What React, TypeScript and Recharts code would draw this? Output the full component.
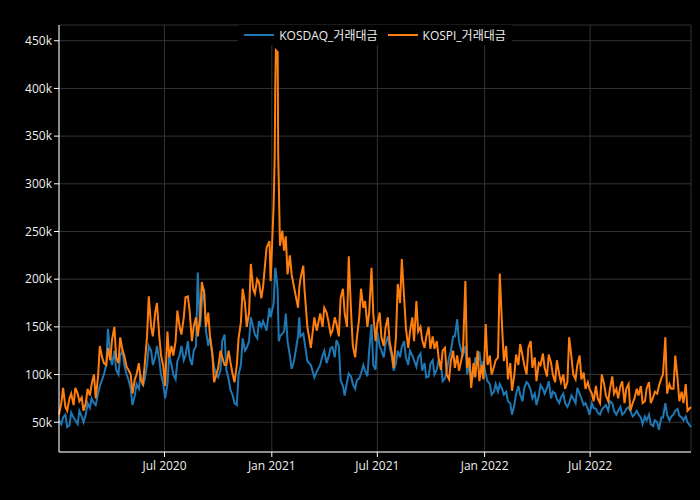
import React from 'react';
import { LineChart, Line, XAxis, YAxis, CartesianGrid, Legend } from 'recharts';

// 거래대금, 단위: 천억원 (축 라벨은 k). 한 줄 = 한 달
const dates: string[] = [
  '2020-01-02', '2020-01-06', '2020-01-09', '2020-01-13', '2020-01-16', '2020-01-20', '2020-01-23', '2020-01-27', '2020-01-30',
  '2020-02-03', '2020-02-06', '2020-02-10', '2020-02-13', '2020-02-17', '2020-02-20', '2020-02-24', '2020-02-27',
  '2020-03-02', '2020-03-05', '2020-03-09', '2020-03-12', '2020-03-16', '2020-03-19', '2020-03-23', '2020-03-26', '2020-03-30',
  '2020-04-02', '2020-04-06', '2020-04-09', '2020-04-13', '2020-04-16', '2020-04-20', '2020-04-23', '2020-04-27', '2020-04-30',
  '2020-05-04', '2020-05-07', '2020-05-11', '2020-05-14', '2020-05-18', '2020-05-21', '2020-05-25', '2020-05-28',
  '2020-06-01', '2020-06-04', '2020-06-08', '2020-06-11', '2020-06-15', '2020-06-18', '2020-06-22', '2020-06-25', '2020-06-29',
  '2020-07-02', '2020-07-06', '2020-07-09', '2020-07-13', '2020-07-16', '2020-07-20', '2020-07-23', '2020-07-27', '2020-07-30',
  '2020-08-03', '2020-08-06', '2020-08-10', '2020-08-13', '2020-08-17', '2020-08-20', '2020-08-24', '2020-08-27', '2020-08-31',
  '2020-09-03', '2020-09-07', '2020-09-10', '2020-09-14', '2020-09-17', '2020-09-21', '2020-09-24', '2020-09-28',
  '2020-10-01', '2020-10-05', '2020-10-08', '2020-10-12', '2020-10-15', '2020-10-19', '2020-10-22', '2020-10-26', '2020-10-29',
  '2020-11-02', '2020-11-05', '2020-11-09', '2020-11-12', '2020-11-16', '2020-11-19', '2020-11-23', '2020-11-26', '2020-11-30',
  '2020-12-03', '2020-12-07', '2020-12-10', '2020-12-14', '2020-12-17', '2020-12-23', '2020-12-28', '2020-12-30',
  '2021-01-04', '2021-01-05', '2021-01-06', '2021-01-07', '2021-01-08', '2021-01-11', '2021-01-12', '2021-01-13', '2021-01-15', '2021-01-19', '2021-01-22', '2021-01-25', '2021-01-28',
  '2021-02-01', '2021-02-04', '2021-02-08', '2021-02-15', '2021-02-17', '2021-02-19', '2021-02-24', '2021-02-26',
  '2021-03-03', '2021-03-09', '2021-03-15', '2021-03-19', '2021-03-25', '2021-03-29',
  '2021-04-01', '2021-04-05', '2021-04-08', '2021-04-12', '2021-04-15', '2021-04-19', '2021-04-22', '2021-04-26', '2021-04-29',
  '2021-05-03', '2021-05-06', '2021-05-10', '2021-05-13', '2021-05-17', '2021-05-20', '2021-05-24', '2021-05-27', '2021-05-31',
  '2021-06-03', '2021-06-07', '2021-06-10', '2021-06-14', '2021-06-17', '2021-06-21', '2021-06-24', '2021-06-28',
  '2021-07-01', '2021-07-05', '2021-07-08', '2021-07-12', '2021-07-15', '2021-07-19', '2021-07-22', '2021-07-26', '2021-07-29',
  '2021-08-02', '2021-08-05', '2021-08-09', '2021-08-12', '2021-08-16', '2021-08-19', '2021-08-23', '2021-08-26', '2021-08-30',
  '2021-09-02', '2021-09-06', '2021-09-09', '2021-09-13', '2021-09-16', '2021-09-20', '2021-09-23', '2021-09-27', '2021-09-30',
  '2021-10-04', '2021-10-07', '2021-10-11', '2021-10-14', '2021-10-18', '2021-10-21', '2021-10-25', '2021-10-28',
  '2021-11-01', '2021-11-04', '2021-11-08', '2021-11-11', '2021-11-15', '2021-11-18', '2021-11-22', '2021-11-25', '2021-11-29',
  '2021-12-02', '2021-12-06', '2021-12-09', '2021-12-13', '2021-12-16', '2021-12-20', '2021-12-23', '2021-12-27', '2021-12-30',
  '2022-01-03', '2022-01-06', '2022-01-10', '2022-01-13', '2022-01-17', '2022-01-20', '2022-01-24', '2022-01-27', '2022-01-31',
  '2022-02-03', '2022-02-07', '2022-02-10', '2022-02-14', '2022-02-17', '2022-02-21', '2022-02-24', '2022-02-28',
  '2022-03-03', '2022-03-07', '2022-03-10', '2022-03-14', '2022-03-17', '2022-03-21', '2022-03-24', '2022-03-28', '2022-03-31',
  '2022-04-04', '2022-04-07', '2022-04-11', '2022-04-14', '2022-04-18', '2022-04-21', '2022-04-25', '2022-04-28',
  '2022-05-02', '2022-05-05', '2022-05-09', '2022-05-12', '2022-05-16', '2022-05-19', '2022-05-23', '2022-05-26', '2022-05-30',
  '2022-06-02', '2022-06-06', '2022-06-09', '2022-06-13', '2022-06-16', '2022-06-20', '2022-06-23', '2022-06-27', '2022-06-30',
  '2022-07-04', '2022-07-07', '2022-07-11', '2022-07-14', '2022-07-18', '2022-07-21', '2022-07-25', '2022-07-28',
  '2022-08-01', '2022-08-04', '2022-08-08', '2022-08-11', '2022-08-15', '2022-08-18', '2022-08-22', '2022-08-25', '2022-08-29',
  '2022-09-01', '2022-09-05', '2022-09-08', '2022-09-12', '2022-09-15', '2022-09-19', '2022-09-22', '2022-09-26', '2022-09-29',
  '2022-10-03', '2022-10-06', '2022-10-10', '2022-10-13', '2022-10-17', '2022-10-20', '2022-10-24', '2022-10-27', '2022-10-31',
  '2022-11-03', '2022-11-07', '2022-11-10', '2022-11-14', '2022-11-17', '2022-11-21', '2022-11-24', '2022-11-28',
  '2022-12-01', '2022-12-05', '2022-12-08', '2022-12-12', '2022-12-15', '2022-12-21',
];

const kosdaq: number[] = [
  52, 48, 55, 58, 45, 47, 60, 55, 52,
  48, 62, 56, 50, 58, 70, 65, 75,
  70, 68, 80, 88, 95, 100, 110, 148, 120,
  110, 125, 105, 100, 120, 125, 110, 100, 95,
  85, 68, 78, 90, 85, 100, 88, 95,
  110, 130, 125, 110, 118, 130, 115, 100, 90,
  75, 90, 120, 110, 100, 95, 114, 120, 130,
  115, 120, 135, 118, 110, 125, 130, 207, 150,
  175, 190, 146, 130, 140, 120, 108, 100,
  97, 105, 135, 142, 105, 95, 84, 78, 70,
  68, 100, 110, 138, 125, 128, 135, 160, 150,
  142, 138, 156, 150, 156, 146, 170, 160,
  174, 185, 200, 212, 208, 190, 160, 135, 140, 143, 145, 164, 135,
  120, 106, 114, 140, 160, 140, 143, 135,
  114, 110, 97, 103, 110, 120,
  125, 112, 118, 128, 129, 118, 136, 130, 94,
  88, 78, 92, 101, 98, 90, 85, 94, 96,
  101, 110, 104, 98, 125, 153, 110, 105,
  145, 130, 125, 118, 132, 140, 129, 118, 104,
  112, 125, 118, 129, 135, 118, 110, 125, 120,
  115, 108, 118, 122, 104, 112, 97, 98, 111,
  115, 100, 105, 115, 112, 93, 96, 104,
  118, 124, 140, 140, 158, 135, 125, 121, 130,
  100, 110, 93, 100, 118, 110, 124, 105, 114,
  100, 93, 90, 79, 82, 90, 82, 90, 85,
  79, 82, 72, 70, 58, 68, 80, 88,
  79, 72, 86, 92, 90, 84, 75, 80, 68,
  78, 89, 85, 80, 86, 93, 75, 82,
  80, 74, 70, 76, 80, 70, 66, 70, 78,
  75, 70, 86, 80, 75, 68, 70, 64, 58,
  70, 65, 64, 60, 58, 63, 66, 68,
  62, 72, 70, 62, 58, 62, 66, 58, 60,
  64, 66, 62, 56, 58, 62, 58, 55, 48,
  56, 52, 58, 48, 46, 52, 50, 42, 55,
  55, 70, 58, 52, 56, 58, 62, 64,
  57, 55, 52, 56, 50, 45,
];

const kospi: number[] = [
  58, 70, 86, 66, 62, 75, 80, 68, 86,
  80, 72, 76, 62, 70, 85, 78, 90,
  100, 75, 98, 130, 118, 112, 110, 128, 115,
  137, 150, 118, 112, 139, 125, 120, 108, 105,
  100, 80, 95, 100, 112, 95, 90, 110,
  140, 182, 150, 140, 165, 175, 140, 120, 108,
  88, 145, 118, 130, 120, 135, 167, 150, 142,
  160, 181, 182, 167, 135, 150, 160, 140, 160,
  197, 185, 150, 165, 140, 122, 92, 100,
  107, 125, 118, 110, 110, 125, 113, 100, 92,
  110, 138, 155, 190, 175, 150, 165, 216, 190,
  185, 200, 197, 180, 192, 233, 240, 198,
  275, 300, 330, 405, 440, 438, 330, 300, 235, 251, 230, 245, 205,
  225, 205, 192, 170, 190, 200, 214, 190,
  150, 128, 160, 146, 164, 150,
  170, 165, 156, 142, 146, 160, 153, 140, 180,
  190, 164, 150, 224, 165, 130, 118, 139, 160,
  190, 170, 177, 150, 165, 212, 164, 135,
  153, 165, 139, 130, 149, 160, 135, 122, 107,
  140, 195, 175, 221, 180, 149, 128, 145, 160,
  135, 177, 145, 150, 136, 128, 140, 150, 127,
  140, 127, 135, 118, 105, 125, 128, 100,
  95, 114, 125, 107, 120, 104, 115, 125, 198,
  107, 118, 86, 112, 97, 125, 93, 110, 95,
  153, 110, 120, 100, 108, 115, 118, 206, 150,
  114, 130, 95, 112, 83, 100, 121, 110,
  132, 120, 110, 100, 128, 135, 107, 118, 93,
  112, 110, 122, 107, 98, 121, 112, 100,
  92, 115, 100, 92, 100, 85, 92, 139, 118,
  100, 95, 110, 120, 95, 102, 85, 92, 85,
  80, 72, 88, 75, 70, 100, 90, 78,
  72, 85, 98, 80, 85, 75, 88, 93, 70,
  85, 90, 62, 70, 75, 85, 78, 88, 70,
  72, 86, 92, 70, 76, 82, 80, 88, 96,
  100, 139, 80, 90, 85, 85, 120, 95,
  72, 82, 70, 90, 62, 66,
];

const xTickDates = ['2020-07-01', '2021-01-01', '2021-07-01', '2022-01-01', '2022-07-01'];
const yTicks = [50, 100, 150, 200, 250, 300, 350, 400, 450];
const monthNames = ['Jan', 'Feb', 'Mar', 'Apr', 'May', 'Jun', 'Jul', 'Aug', 'Sep', 'Oct', 'Nov', 'Dec'];

const toTime = (d: string) => new Date(d + 'T00:00:00Z').getTime();

const data = dates.map((d, i) => ({ t: toTime(d), kosdaq: kosdaq[i], kospi: kospi[i] }));
const xTicks = xTickDates.map(toTime);

const FONT = '"Open Sans", "Noto Sans CJK KR", sans-serif';
const TEXT = '#eeeeee';
const GRID = '#333333';

const formatDate = (v: number) => {
  const d = new Date(v);
  return `${monthNames[d.getUTCMonth()]} ${d.getUTCFullYear()}`;
};

const LegendBox = () => (
  <div style={{ display: 'flex', justifyContent: 'center' }}>
    <div
      style={{
        display: 'flex',
        alignItems: 'center',
        background: '#000',
        height: 20,
        padding: '0 6px',
        fontFamily: FONT,
        fontSize: 12,
        color: TEXT,
      }}
    >
      <span style={{ display: 'inline-block', width: 30, height: 2, background: '#1f77b4', marginRight: 5 }} />
      <span style={{ marginRight: 10 }}>KOSDAQ_거래대금</span>
      <span style={{ display: 'inline-block', width: 30, height: 2, background: '#ff7f0e', marginRight: 5 }} />
      <span>KOSPI_거래대금</span>
    </div>
  </div>
);

export default function App() {
  return (
    <div style={{ position: 'absolute', left: 0, top: 0, width: 700, height: 500, background: '#000' }}>
      <LineChart width={700} height={500} data={data} margin={{ top: 25, right: 9, bottom: 0, left: 0 }}>
        <CartesianGrid stroke={GRID} strokeWidth={1} />
        <XAxis
          dataKey="t"
          type="number"
          domain={[toTime('2020-01-02'), toTime('2022-12-21')]}
          ticks={xTicks}
          tickFormatter={formatDate}
          height={48}
          stroke="#fff"
          tickSize={5}
          tickMargin={4}
          tick={{ fill: TEXT, fontSize: 12, fontFamily: FONT }}
        />
        <YAxis
          type="number"
          domain={[18.8, 466.5]}
          ticks={yTicks}
          tickFormatter={(v: number) => `${v}k`}
          width={59}
          stroke="#fff"
          tickSize={5}
          tickMargin={2}
          allowDataOverflow
          tick={{ fill: TEXT, fontSize: 12, fontFamily: FONT }}
        />
        <Legend
          verticalAlign="middle"
          align="center"
          content={<LegendBox />}
          wrapperStyle={{ top: 25, left: 59, width: 632 }}
        />
        <Line type="linear" dataKey="kosdaq" name="KOSDAQ_거래대금" stroke="#1f77b4" strokeWidth={2} dot={false} isAnimationActive={false} />
        <Line type="linear" dataKey="kospi" name="KOSPI_거래대금" stroke="#ff7f0e" strokeWidth={2} dot={false} isAnimationActive={false} />
      </LineChart>
    </div>
  );
}
